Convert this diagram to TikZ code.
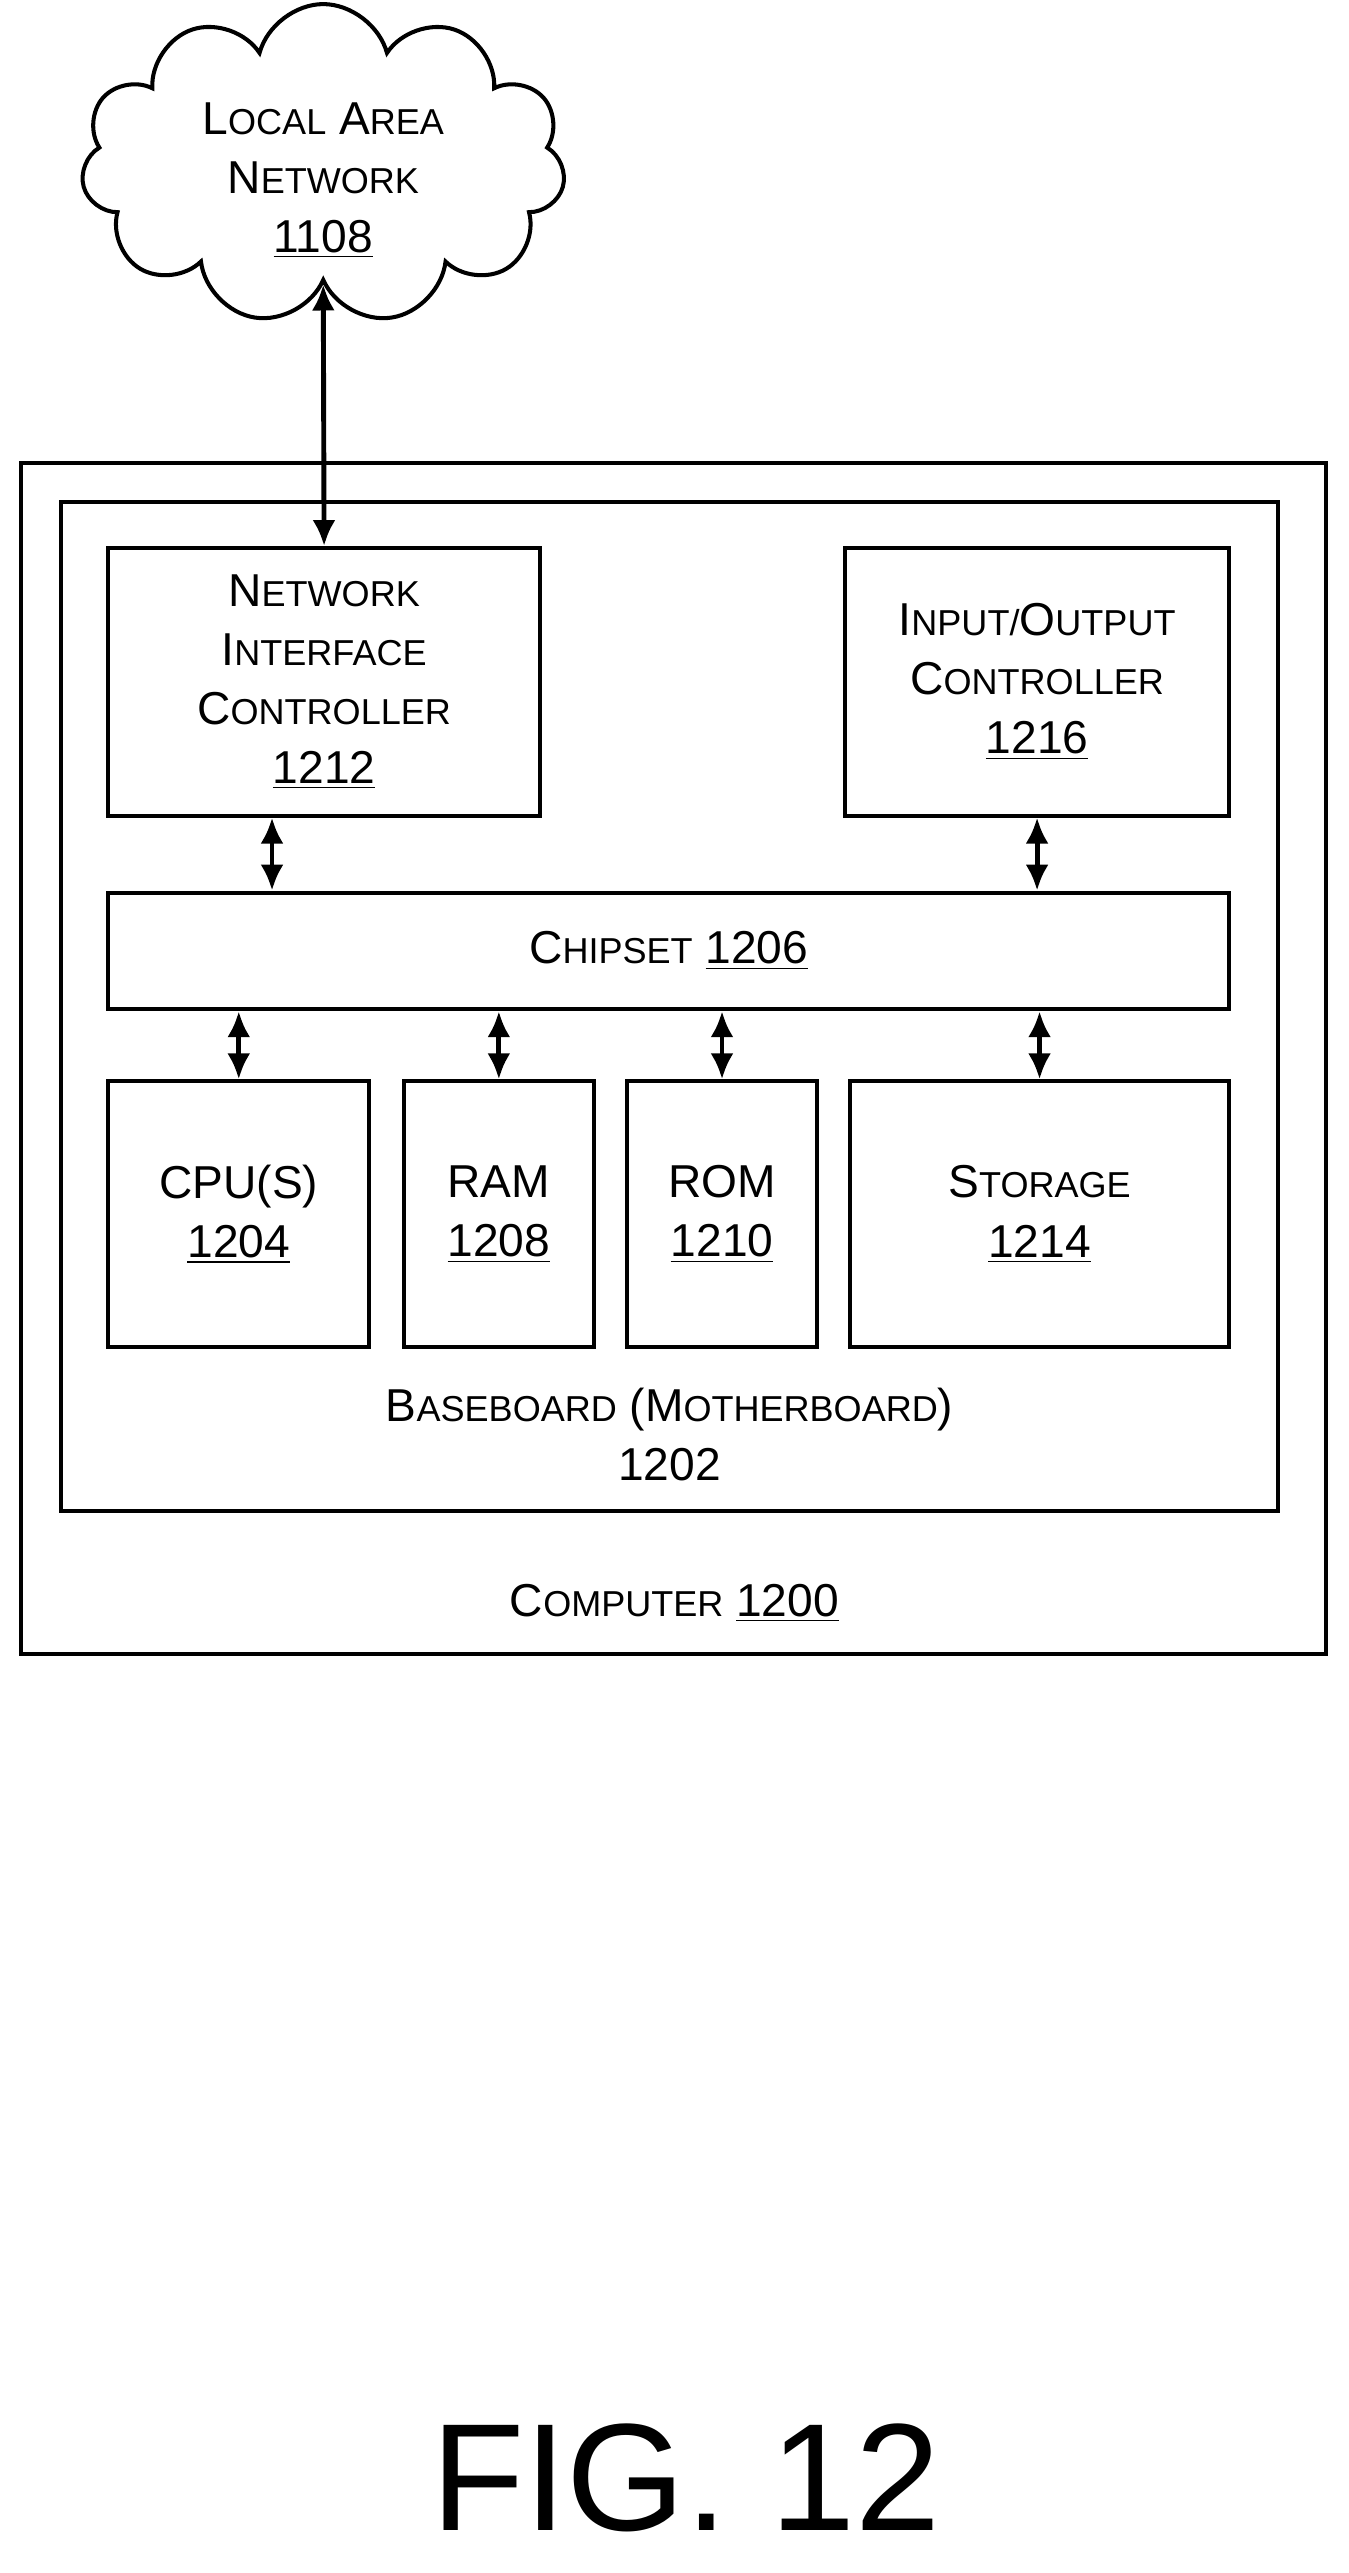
\documentclass[tikz,border=0pt]{standalone}
\usepackage{fontspec}
\setmainfont{Liberation Sans}
\usetikzlibrary{shapes.symbols,arrows.meta}
\newcommand\smc[2]{#1{\fontsize{12.5}{20.5}\selectfont #2}}
\begin{document}
\begin{tikzpicture}[
    box/.style={draw, line width=1.4pt, align=center, font=\fontsize{16}{20.5}\selectfont},
    txt/.style={align=center, font=\fontsize{16}{20.5}\selectfont},
    dbl/.style={{Latex[length=9pt,width=8pt]}-{Latex[length=9pt,width=8pt]}, line width=1.7pt}]
    \useasboundingbox (0,0) rectangle (16.44,-31.36);
    \node[draw, line width=1.4pt] (pc) at (8.21,-12.9) [minimum width=15.9cm, minimum height=14.52cm] {};
    \node[draw, line width=1.4pt] (bb) at (8.16,-12.27) [minimum width=14.84cm, minimum height=12.3cm] {};
    \node[cloud, cloud puffs=11, aspect=1.5, draw, line width=1.4pt, minimum width=5.9cm, minimum height=3.9cm, inner sep=0pt,
        label={[txt, yshift=-0.2cm]center:{\smc{L}{OCAL} \smc{A}{REA}\\\smc{N}{ETWORK}\\\underline{1108}}}] (lan) at (3.94,-2.0) {};
    \node[box, minimum width=5.26cm, minimum height=3.26cm] (nic) at (3.95,-8.31)
        {\smc{N}{ETWORK}\\\smc{I}{NTERFACE}\\\smc{C}{ONTROLLER}\\\underline{1212}};
    \node[box, minimum width=4.68cm, minimum height=3.26cm] (io) at (12.64,-8.31)
        {\smc{I}{NPUT/}\smc{O}{UTPUT}\\\smc{C}{ONTROLLER}\\\underline{1216}};
    \node[box, minimum width=13.66cm, minimum height=1.42cm] (chip) at (8.15,-11.59)
        {\smc{C}{HIPSET} \underline{1206}};
    \node[box, minimum width=3.18cm, minimum height=3.24cm] (cpu) at (2.91,-14.8) {CPU(S)\\\underline{1204}};
    \node[box, minimum width=2.32cm, minimum height=3.24cm] (ram) at (6.08,-14.8) {RAM\\\underline{1208}};
    \node[box, minimum width=2.32cm, minimum height=3.24cm] (rom) at (8.8,-14.8) {ROM\\\underline{1210}};
    \node[box, minimum width=4.62cm, minimum height=3.24cm] (sto) at (12.67,-14.8) {\smc{S}{TORAGE}\\\underline{1214}};
    \node[txt] (bbl) at (8.16,-17.48) {\smc{B}{ASEBOARD} (\smc{M}{OTHERBOARD})\\1202};
    \node[txt] (pcl) at (8.22,-19.54) {\smc{C}{OMPUTER} \underline{1200}};
    \node[font=\fontsize{53}{60}\selectfont, inner sep=0pt] (fig) at (8.36,-30.2) {FIG. 12};
    \draw[dbl] (lan.south) -- (nic.north);
    \draw[dbl] ([xshift=2.02cm]nic.south west) -- ([xshift=2.02cm]nic.south west |- chip.north);
    \draw[dbl] (io.south) -- (io.south |- chip.north);
    \foreach \n in {cpu,ram,rom,sto}
        \draw[dbl] (\n.north |- chip.south) -- (\n.north);
\end{tikzpicture}
\end{document}
